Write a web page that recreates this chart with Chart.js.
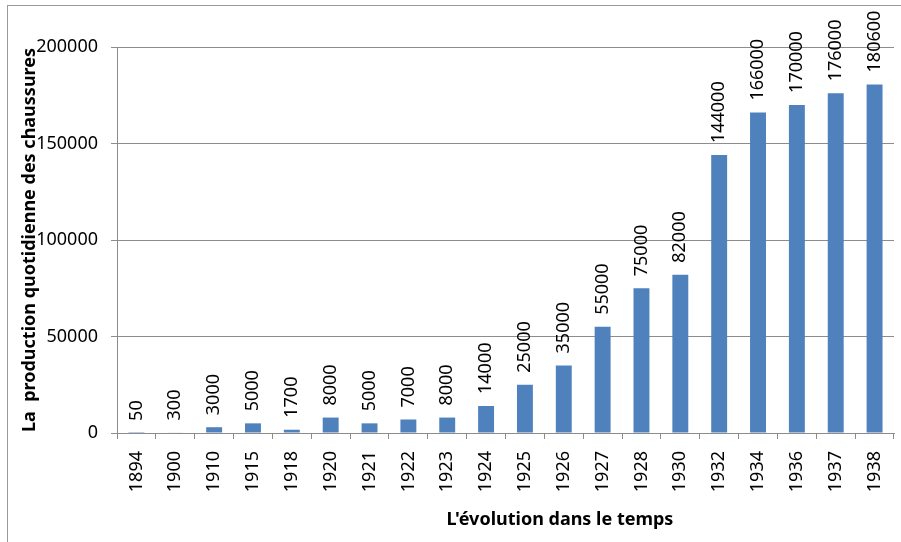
<!DOCTYPE html>
<html>
<head>
<meta charset="utf-8">
<script src="https://cdn.jsdelivr.net/npm/chart.js@4"></script>
<style>
  html, body { margin: 0; padding: 0; background: #fff; }
  #wrap { position: relative; width: 901px; height: 542px; }
  #frame { position: absolute; left: 7px; top: 5px; right: 0; bottom: 0;
           border-left: 1px solid #9a9a9a; border-top: 1px solid #9a9a9a; }
  canvas { position: absolute; left: 0; top: 0; }
</style>
</head>
<body>
<div id="wrap">
  <div id="frame"></div>
  <canvas id="chart" width="901" height="542"></canvas>
</div>
<script>
// --- Data ---
const years = ["1894", "1900", "1910", "1915", "1918", "1920", "1921", "1922", "1923", "1924",
  "1925", "1926", "1927", "1928", "1930", "1932", "1934", "1936", "1937", "1938"];
const production = [50, 300, 3000, 5000, 1700, 8000, 5000, 7000, 8000, 14000,
  25000, 35000, 55000, 75000, 82000, 144000, 166000, 170000, 176000, 180600];
const yTicks = [0, 50000, 100000, 150000, 200000];
const xTitle = "L'évolution dans le temps";

const FONT = "'Noto Sans', 'Liberation Sans', sans-serif";
const gridColor = "#8c8c8c";

// --- Value labels drawn above each bar, rotated; x title sits right of centre ---
const barLabels = {
  id: "barLabels",
  afterDatasetsDraw(chart) {
    const ctx = chart.ctx;
    const meta = chart.getDatasetMeta(0);
    ctx.save();
    ctx.font = "18px " + FONT;
    ctx.fillStyle = "#000";
    ctx.textAlign = "left";
    ctx.textBaseline = "middle";
    meta.data.forEach((bar, i) => {
      ctx.save();
      ctx.translate(bar.x, bar.y - 12);
      ctx.rotate(-Math.PI / 2);
      ctx.fillText(String(production[i]), 0, 0);
      ctx.restore();
    });

    const area = chart.chartArea;
    ctx.font = "bold 18px " + FONT;
    ctx.textAlign = "center";
    ctx.fillText(xTitle, area.left + (area.right - area.left) * 0.57, 520);
    ctx.restore();
  },
};

new Chart(document.getElementById("chart").getContext("2d"), {
  type: "bar",
  data: {
    labels: years,
    datasets: [
      {
        data: production,
        backgroundColor: "#4f81bd",
        borderWidth: 0,
        categoryPercentage: 1,
        barPercentage: 0.41,
      },
    ],
  },
  options: {
    responsive: false,
    animation: false,
    layout: { padding: { top: 47, right: 7, left: 0, bottom: 0 } },
    plugins: {
      legend: { display: false },
      tooltip: { enabled: false },
    },
    scales: {
      x: {
        afterFit: (s) => {
          s.height = 109;
          s.paddingLeft = 0;
          s.paddingRight = 0;
        },
        grid: {
          offset: true,
          drawOnChartArea: false,
          drawTicks: true,
          tickLength: 6,
          color: gridColor,
        },
        border: { color: gridColor },
        ticks: {
          minRotation: 90,
          maxRotation: 90,
          padding: 12,
          color: "#000",
          font: { family: FONT, size: 18 },
        },
      },
      y: {
        min: 0,
        max: 200000,
        afterFit: (s) => {
          s.width = 117;
          s.paddingTop = 0;
          s.paddingBottom = 0;
        },
        afterBuildTicks: (s) => { s.ticks = yTicks.map((v) => ({ value: v })); },
        grid: { color: gridColor, tickLength: 6 },
        border: { color: gridColor },
        ticks: {
          padding: 13,
          color: "#000",
          font: { family: FONT, size: 18 },
          callback: (v) => String(v),
        },
        title: {
          display: true,
          text: "La  production quotidienne des chaussures",
          color: "#000",
          font: { family: FONT, size: 18, weight: "bold" },
          padding: { top: 19, bottom: 0 },
        },
      },
    },
  },
  plugins: [barLabels],
});
</script>
</body>
</html>
